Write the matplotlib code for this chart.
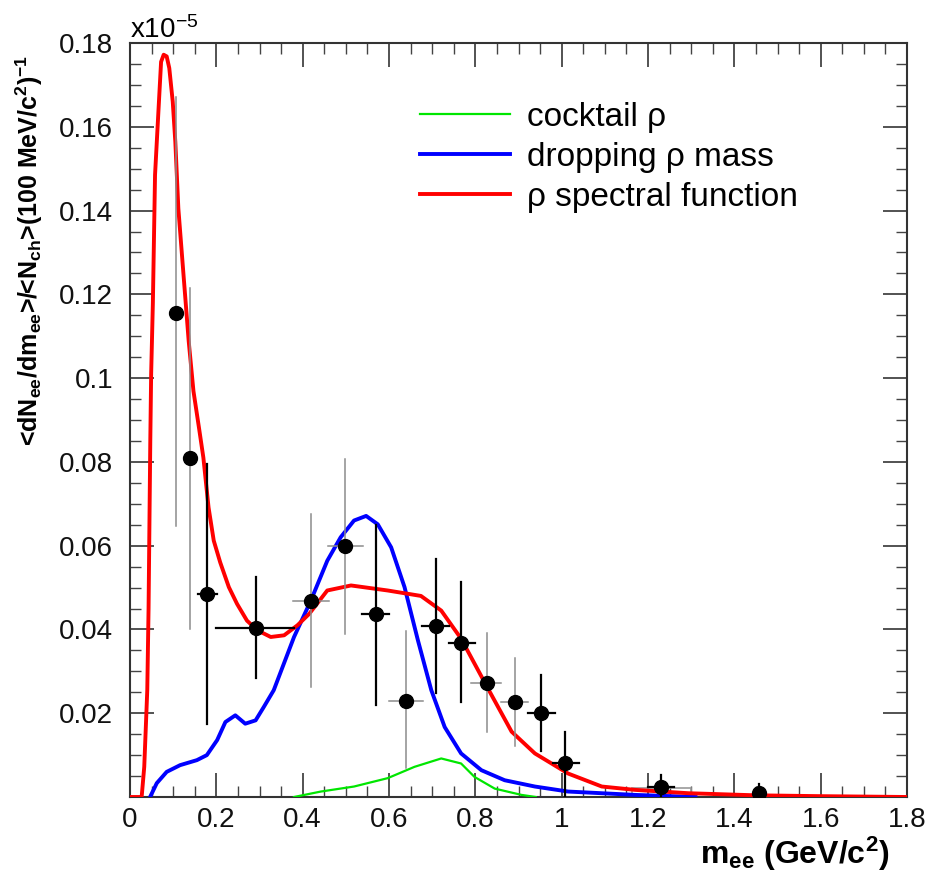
import matplotlib
matplotlib.use("Agg")
import matplotlib.pyplot as plt
from matplotlib.ticker import MultipleLocator, FuncFormatter
from matplotlib.patches import Rectangle

plt.rcParams['font.family'] = ['Liberation Sans', 'DejaVu Sans']
plt.rcParams['mathtext.fontset'] = 'custom'
plt.rcParams['mathtext.rm'] = 'Liberation Sans'
plt.rcParams['mathtext.bf'] = 'Liberation Sans:bold'
plt.rcParams['mathtext.it'] = 'Liberation Sans:italic'
plt.rcParams['mathtext.default'] = 'bf'

# ---- data (units of 1e-5) ----
pt_x = [0.107, 0.138, 0.178, 0.291, 0.419, 0.498, 0.570, 0.640, 0.708, 0.767, 0.828, 0.891, 0.952, 1.008, 1.231, 1.457]
pt_y = [0.1155, 0.0809, 0.0485, 0.0404, 0.0467, 0.0600, 0.0437, 0.0229, 0.0408, 0.0367, 0.0271, 0.0227, 0.0201, 0.0080, 0.00245, 0.0009]
pt_xlo = [0.107, 0.130, 0.158, 0.200, 0.378, 0.459, 0.537, 0.600, 0.677, 0.739, 0.790, 0.859, 0.921, 0.980, 1.20, 1.457]
pt_xhi = [0.107, 0.150, 0.202, 0.380, 0.460, 0.540, 0.600, 0.678, 0.740, 0.800, 0.860, 0.922, 0.984, 1.040, 1.26, 1.457]
pt_ylo = [0.0648, 0.0402, 0.0174, 0.0283, 0.0262, 0.0390, 0.0219, 0.0069, 0.0248, 0.0227, 0.0154, 0.0122, 0.0110, 0.0, 0.0, 0.0]
pt_yhi = [0.1670, 0.1214, 0.0796, 0.0526, 0.0676, 0.0808, 0.0650, 0.0396, 0.0568, 0.0513, 0.0391, 0.0332, 0.0292, 0.0156, 0.0052, 0.0030]
pt_grey = [True, True, False, False, True, True, False, True, False, False, True, True, False, False, False, False]

sys_box_x = [1.163, 1.300]
sys_box_y = [0.0, 0.0021]

red_x = [0.0, 0.027, 0.033, 0.037, 0.040, 0.043, 0.045, 0.047, 0.049, 0.053, 0.058, 0.066, 0.072, 0.078, 0.085,
         0.091, 0.099, 0.105, 0.112, 0.124, 0.136, 0.147, 0.160, 0.170, 0.182, 0.194, 0.209, 0.229, 0.248, 0.271,
         0.295, 0.326, 0.357, 0.388, 0.415, 0.457, 0.512, 0.597, 0.674, 0.721, 0.767, 0.825, 0.884, 0.938, 1.015,
         1.093, 1.170, 1.294, 1.45, 1.6, 1.8]
red_y = [0.0, 0.0, 0.0072, 0.0176, 0.0255, 0.045, 0.065, 0.085, 0.101, 0.118, 0.1485, 0.164, 0.1755, 0.1772, 0.1768,
         0.174, 0.166, 0.1564, 0.1405, 0.1246, 0.1088, 0.0969, 0.0880, 0.0810, 0.0691, 0.0612, 0.0560, 0.0501, 0.0461, 0.0421,
         0.0398, 0.0382, 0.0386, 0.0410, 0.0437, 0.0493, 0.0505, 0.0493, 0.0480, 0.0445, 0.0378, 0.0267, 0.0156, 0.0104, 0.0056,
         0.0025, 0.0017, 0.0009, 0.0004, 0.0002, 0.0]

blue_x = [0.0465, 0.062, 0.085, 0.116, 0.155, 0.178, 0.202, 0.221, 0.244, 0.267, 0.291, 0.310, 0.333, 0.380,
          0.419, 0.457, 0.488, 0.519, 0.547, 0.574, 0.605, 0.636, 0.667, 0.698, 0.729, 0.767, 0.814, 0.868, 0.938,
          1.015, 1.093, 1.170, 1.310]
blue_y = [0.0, 0.0033, 0.0060, 0.0076, 0.0088, 0.0100, 0.0136, 0.0179, 0.0195, 0.0175, 0.0183, 0.0215, 0.0255, 0.0382,
          0.0469, 0.0564, 0.0620, 0.0660, 0.0671, 0.0651, 0.0596, 0.0501, 0.0374, 0.0255, 0.0167, 0.0104, 0.0064, 0.0040, 0.0025,
          0.0013, 0.0009, 0.0005, 0.0]

green_x = [0.380, 0.442, 0.519, 0.597, 0.659, 0.721, 0.767, 0.798, 0.845, 0.907, 0.940]
green_y = [0.0, 0.0013, 0.0025, 0.0045, 0.0072, 0.0092, 0.0080, 0.0048, 0.0020, 0.0005, 0.0]

labels = ['cocktail ρ', 'dropping ρ mass', 'ρ spectral function']

W, H = 930, 877
fig = plt.figure(figsize=(W/100, H/100), dpi=100)
ax = fig.add_axes([130/W, 1-797/H, 777/W, (797-43)/H])

ax.add_patch(Rectangle((sys_box_x[0], sys_box_y[0]), sys_box_x[1]-sys_box_x[0], sys_box_y[1]-sys_box_y[0],
                       fill=False, edgecolor='#999999', lw=1.2, zorder=2))

lg, = ax.plot(green_x, green_y, color='#00e600', lw=1.6, zorder=3)
lb, = ax.plot(blue_x, blue_y, color='#0000ff', lw=2.8, zorder=3)
lr, = ax.plot(red_x, red_y, color='#ff0000', lw=2.8, zorder=4)

for i in range(len(pt_x)):
    c = '#8c8c8c' if pt_grey[i] else 'black'
    w = 1.1 if pt_grey[i] else 1.6
    ax.plot([pt_x[i], pt_x[i]], [pt_ylo[i], pt_yhi[i]], color=c, lw=w, zorder=5)
    ax.plot([pt_xlo[i], pt_xhi[i]], [pt_y[i], pt_y[i]], color=c, lw=w, zorder=5)
ax.plot(pt_x, pt_y, 'o', color='black', ms=10, zorder=6, ls='none')

ax.set_xlim(0, 1.8)
ax.set_ylim(0, 0.18)
ax.xaxis.set_major_locator(MultipleLocator(0.2))
ax.xaxis.set_minor_locator(MultipleLocator(0.05))
ax.yaxis.set_major_locator(MultipleLocator(0.02))
ax.yaxis.set_minor_locator(MultipleLocator(0.005))
ax.xaxis.set_major_formatter(FuncFormatter(lambda v, p: '%g' % round(v, 3)))
ax.yaxis.set_major_formatter(FuncFormatter(lambda v, p: '' if abs(v) < 1e-9 else '%g' % round(v, 3)))
ax.tick_params(which='both', direction='in', top=True, right=True, labelsize=20,
               color='#444444', labelcolor='#111111')
ax.tick_params(which='major', length=17, width=1.3)
ax.tick_params(which='minor', length=8, width=1.0)
ax.tick_params(axis='x', pad=7)
ax.tick_params(axis='y', pad=12)
for s in ax.spines.values():
    s.set_linewidth(1.5)
    s.set_color('#333333')

fig.text(130/W, 1-38/H, r'x10$^{\mathrm{-5}}$', fontsize=20, ha='left', va='baseline')

fig.text(29/W, 1-250/H, r'<dN$_{ee}$/dm$_{ee}$>/<N$_{ch}$>(100 MeV/c$^{2}$)$^{-1}$',
         fontsize=18, fontweight='bold', rotation=90, ha='center', va='center')
fig.text(890/W, 1-864/H, r'm$_{ee}$ (GeV/c$^{2}$)', fontsize=23, fontweight='bold',
         ha='right', va='baseline')

fig.legend([lg, lb, lr], labels, loc='upper left', bbox_to_anchor=(420/W, 1-102/H),
           bbox_transform=fig.transFigure, frameon=False, fontsize=24,
           handlelength=2.7, handletextpad=0.5, labelspacing=0.27, borderpad=0, borderaxespad=0)

fig.savefig('out.png', dpi=100)
